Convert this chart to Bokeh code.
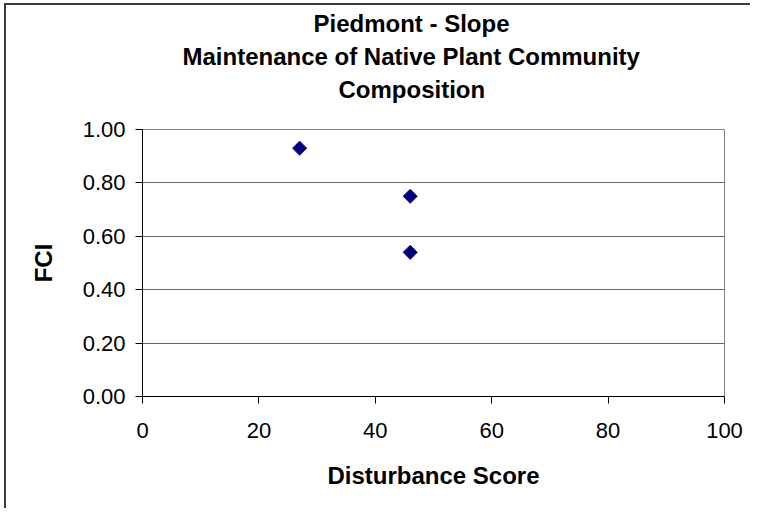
import numpy as np
from bokeh.plotting import figure
from bokeh.models import Range1d, Title, NumeralTickFormatter
from bokeh.embed import file_html
from bokeh.resources import INLINE

# ---- data ----
disturbance = [27, 46, 46]
fci = [0.93, 0.75, 0.54]
x_ticks = [0, 20, 40, 60, 80, 100]
y_ticks = [0.0, 0.2, 0.4, 0.6, 0.8, 1.0]
title_lines = ["Piedmont - Slope", "Maintenance of Native Plant Community", "Composition"]
x_label = "Disturbance Score"
y_label = "FCI"

FONT = "Liberation Sans"

p = figure(width=746, height=505, output_backend="svg", toolbar_location=None,
           x_range=Range1d(0, 100), y_range=Range1d(0, 1),
           min_border_left=136, min_border_right=28,
           min_border_top=122, min_border_bottom=114,
           background_fill_color="white", border_fill_color="white")
p.title = None

p.styles = {"border-left": "2px solid #3c3c3c", "border-top": "2px solid #3c3c3c",
            "margin-left": "4px", "margin-top": "3px"}

p.outline_line_color = "#808080"
p.xgrid.visible = False
p.ygrid.ticker = y_ticks
p.ygrid.grid_line_color = "#666666"
p.ygrid.grid_line_width = 1

for ax in (p.xaxis[0], p.yaxis[0]):
    ax.axis_line_color = "black"
    ax.major_tick_line_color = "black"
    ax.minor_tick_line_color = None
    ax.major_tick_in = 0
    ax.major_tick_out = 7
    ax.major_label_text_font = FONT
    ax.major_label_text_font_size = "22px"
    ax.major_label_text_color = "black"
    ax.axis_label_text_font = FONT
    ax.axis_label_text_font_size = "24px"
    ax.axis_label_text_font_style = "bold"
    ax.axis_label_text_color = "black"

p.xaxis.ticker = x_ticks
p.yaxis.ticker = y_ticks
p.yaxis.formatter = NumeralTickFormatter(format="0.00")
p.xaxis.major_label_standoff = 19
p.yaxis.major_label_standoff = 10
p.xaxis.axis_label = x_label
p.yaxis.axis_label = y_label
p.xaxis.axis_label_standoff = 21
p.yaxis.axis_label_standoff = 23

p.scatter(disturbance, fci, marker="square", angle=np.pi / 4, size=10,
          fill_color="#000080", line_color="#10108a", line_width=1)

# spacer between the frame and the title block
p.add_layout(Title(text=" ", text_font_size="10px", standoff=11.5), "above")
# title lines, nearest to the frame first
offsets = {title_lines[0]: 171, title_lines[1]: 40, title_lines[2]: 196}
for txt in reversed(title_lines):
    p.add_layout(Title(text=txt, align="left", offset=offsets[txt], standoff=3.5,
                       text_font=FONT, text_font_size="24px", text_font_style="bold",
                       text_color="black"), "above")

open("out.html", "w").write(file_html(p, INLINE))
